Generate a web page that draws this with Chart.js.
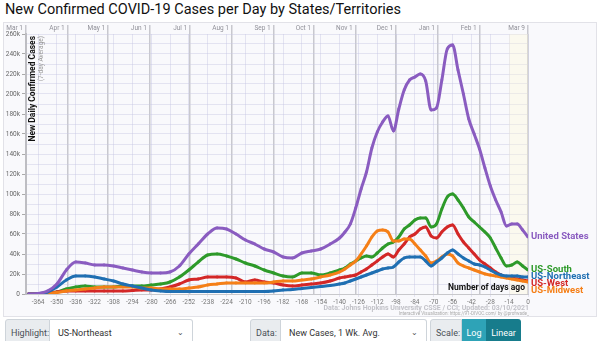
<!DOCTYPE html>
<html>
<head>
<meta charset="utf-8">
<script src="https://cdn.jsdelivr.net/npm/chart.js@4.4.0/dist/chart.umd.min.js"></script>
<style>
    body { margin: 0; width: 600px; height: 341px; overflow: hidden; background: #fff; position: relative; font-family: Roboto, "Open Sans", sans-serif; }
    #title { position: absolute; left: 5px; top: 1px; font-size: 14.5px; color: #111; white-space: nowrap; }
    #panel { position: absolute; left: 3px; top: 22px; width: 594px; height: 295px; background: #f9f9fc; border: 1px solid #e2e2e8; box-sizing: border-box; }
    #wrap { position: absolute; left: 0; top: 22px; width: 600px; height: 296px; }
    .grp { position: absolute; top: 319px; height: 28px; display: flex; font-size: 9px; color: #495057; white-space: nowrap; }
    .lbl { background: #e9ecef; border: 1px solid #ced4da; border-radius: 3px 0 0 3px; box-sizing: border-box; display: flex; align-items: center; padding-left: 5px; }
    .sel { background: #fff; border: 1px solid #ced4da; border-left: none; border-radius: 0 3px 3px 0; box-sizing: border-box; display: flex; align-items: center; padding-left: 8px; position: relative; color: #333; }
    .sel span.arr { position: absolute; right: 8px; top: 8px; font-size: 8px; color: #555; }
    .btn { display: flex; align-items: center; justify-content: center; color: #fff; box-sizing: border-box; }
</style>
</head>
<body>
<div id="title">New Confirmed COVID-19 Cases per Day by States/Territories</div>
<div id="panel"></div>
<div id="wrap"><canvas id="chart"></canvas></div>

<div class="grp" style="left:5px;">
    <div class="lbl" style="width:45px;">Highlight:</div>
    <div class="sel" style="width:143px;">US-Northeast<span class="arr">&#8964;</span></div>
</div>
<div class="grp" style="left:250px;">
    <div class="lbl" style="width:31px;">Data:</div>
    <div class="sel" style="width:146px;">New Cases, 1 Wk. Avg.<span class="arr">&#8964;</span></div>
</div>
<div class="grp" style="left:430px;">
    <div class="lbl" style="width:32px;">Scale:</div>
    <div class="btn" style="width:24px;background:#2ea3b7;">Log</div>
    <div class="btn" style="width:35px;background:#177c8c;border-radius:0 3px 3px 0;">Linear</div>
</div>

<script>
// days before Mar 9, 2021 (weekly early on, every 4 days later)
const days = [-371, -364, -357, -350, -343, -336, -329, -322, -315, -308, -301, -294, -287, -280, -273, -266, -259, -252,
    -245, -238, -231, -224, -217, -210, -203, -196, -189, -182, -175, -168, -161, -154, -147, -140,
    -136, -132, -128, -124, -120, -116, -112, -108, -104, -100, -96, -92, -88, -84, -80, -76, -72, -68,
    -64, -60, -56, -52, -48, -44, -40, -36, -32, -28, -24, -20, -16, -12, -8, -4, 0];

// new cases, 7-day average, in thousands
const unitedStates = [0, 0.5, 3, 10, 24, 32, 31, 29, 29, 28, 26, 24, 22, 21, 21, 22, 28, 40,
    50, 60, 66, 65, 60, 54, 50, 45, 42, 37, 36, 41, 43, 45, 50, 56,
    62, 70, 86, 105, 122, 146, 162, 172, 178, 163, 185, 204, 214, 217, 220, 213, 184, 186,
    214, 245, 249, 224, 200, 175, 160, 145, 126, 108, 94, 82, 68, 70, 70, 64, 57];
const usNortheast = [0, 0.3, 2, 7, 14, 18, 18, 17, 15, 13, 10, 8, 6, 4, 3, 2.5, 2.5, 2.5,
    2.5, 2.5, 2.5, 2.5, 2.5, 2.5, 2.5, 2.5, 3, 4, 4.5, 5.5, 6.5, 7.5, 8.5, 10,
    11, 13, 15, 17, 19, 21, 23, 25, 26, 27, 32, 36, 37, 37, 37, 33, 28, 32,
    36, 41, 44, 40, 36, 33, 30, 29, 27, 24, 21, 19, 18, 18, 18, 17, 17];
const usSouth = [0, 0.1, 0.5, 2, 5, 7, 8, 7, 7, 7, 8, 8, 8, 9, 10, 12, 17, 24,
    32, 39, 40, 38, 35, 31, 28, 24, 21, 18, 17, 21, 21, 19, 21, 24,
    26, 30, 33, 36, 38, 37, 41, 46, 50, 52, 57, 65, 69, 74, 76, 76, 67, 70,
    85, 97, 100, 94, 86, 77, 72, 67, 62, 56, 46, 36, 28, 29, 32, 28, 24];
const usWest = [0.3, 0.3, 1, 2, 3, 3, 3, 3, 3, 3, 3, 3.5, 4, 4, 5, 7, 10, 14,
    15, 17, 17, 17, 16, 12, 14, 12, 11, 9, 8, 9, 10, 11, 13, 16,
    17, 18, 19, 22, 25, 29, 33, 37, 40, 37, 44, 50, 57, 60, 65, 67, 58, 56,
    62, 67, 69, 60, 52, 46, 40, 34, 30, 26, 22, 19, 17, 16, 15, 14, 13];
const usMidwest = [0, 0.1, 0.5, 1.5, 3, 4, 5, 6, 7, 7, 7, 7, 6, 6, 5, 5, 5, 6,
    7, 9, 10, 11, 11, 11, 11, 11, 12, 13, 13, 14, 15, 17, 19, 22,
    25, 29, 33, 40, 48, 57, 63, 64, 62, 53, 53, 55, 55, 50, 44, 38, 31, 33,
    37, 40, 38, 31, 28, 26, 24, 22, 20, 19, 18, 17, 16, 15, 14, 13, 12];

const seriesNames = ['United States', 'US-Northeast', 'US-Midwest', 'US-West', 'US-South'];
const seriesColors = ['#8a5cc0', '#1f6fb2', '#f57f17', '#d32727', '#2e9a2a'];
const seriesValues = [unitedStates, usNortheast, usMidwest, usWest, usSouth];

const dayTicks = [-364, -350, -336, -322, -308, -294, -280, -266, -252, -238, -224, -210, -196, -182,
    -168, -154, -140, -126, -112, -98, -84, -70, -56, -42, -28, -14, 0];
const monthDays = [-373, -342, -312, -281, -251, -220, -189, -159, -128, -98, -67, -36, 0];
const monthLabels = ['Mar 1', 'Apr 1', 'May 1', 'Jun 1', 'Jul 1', 'Aug 1', 'Sep 1', 'Oct 1', 'Nov 1', 'Dec 1', 'Jan 1', 'Feb 1', 'Mar 9'];
const yTicks = [0, 20, 40, 60, 80, 100, 120, 140, 160, 180, 200, 220, 240, 260];

const FONT = 'Roboto, "Open Sans", sans-serif';

// faint band over the last two weeks
const bandPlugin = {
    id: 'band',
    beforeDatasetsDraw(chart) {
        const { ctx, chartArea, scales } = chart;
        const x0 = scales.x.getPixelForValue(-14);
        const x1 = scales.x.getPixelForValue(0);
        ctx.save();
        ctx.fillStyle = 'rgba(255, 250, 215, 0.35)';
        ctx.fillRect(x0, chartArea.top, x1 - x0, chartArea.bottom - chartArea.top);
        ctx.restore();
    }
};

// month labels, end labels, axis titles and source note
const textPlugin = {
    id: 'texts',
    afterDraw(chart) {
        const { ctx, chartArea, scales } = chart;
        ctx.save();

        // month names beside the top ticks
        ctx.font = '6.5px ' + FONT;
        ctx.fillStyle = '#909098';
        ctx.textAlign = 'right';
        ctx.textBaseline = 'middle';
        monthDays.forEach((d, i) => {
            ctx.fillText(monthLabels[i], scales.x.getPixelForValue(d) - 3, chartArea.top - 6);
        });

        // end-of-line labels, pushed apart so they do not overlap
        const items = chart.data.datasets.map(ds => {
            const last = ds.data[ds.data.length - 1];
            return { text: ds.label, color: ds.borderColor, y: scales.y.getPixelForValue(last.y) };
        }).sort((a, b) => a.y - b.y);
        for (let i = 1; i < items.length; i++) {
            if (items[i].y - items[i - 1].y < 7) items[i].y = items[i - 1].y + 7;
        }
        ctx.font = 'bold 9.5px ' + FONT;
        ctx.textAlign = 'left';
        items.forEach(it => {
            ctx.fillStyle = it.color;
            ctx.fillText(it.text, chartArea.right + 3, it.y);
        });

        // y axis title inside the plot
        ctx.save();
        ctx.translate(chartArea.left + 7, chartArea.top + 2);
        ctx.rotate(-Math.PI / 2);
        ctx.textAlign = 'right';
        ctx.fillStyle = '#111';
        ctx.font = 'bold 8.5px ' + FONT;
        ctx.fillText('New Daily Confirmed Cases', 0, 0);
        ctx.fillStyle = '#999';
        ctx.font = '6.5px ' + FONT;
        ctx.fillText('(7-day Average)', 0, 8);
        ctx.restore();

        // x axis title
        ctx.font = 'bold 8.5px ' + FONT;
        ctx.fillStyle = '#111';
        ctx.textAlign = 'right';
        ctx.fillText('Number of days ago', chartArea.right - 3, chartArea.bottom - 6);

        // source
        ctx.fillStyle = '#c2c2c8';
        ctx.font = 'bold 7px ' + FONT;
        ctx.fillText('Data: Johns Hopkins University CSSE / CCI; Updated: 03/10/2021', chartArea.right + 1, chartArea.bottom + 14);
        ctx.font = '4.6px ' + FONT;
        ctx.fillStyle = '#aaa';
        ctx.fillText('Interactive Visualization: https://91-DIVOC.com/ by @profwade_', chartArea.right + 1, chartArea.bottom + 20);
        ctx.restore();
    }
};

new Chart(document.getElementById('chart'), {
    type: 'line',
    data: {
        datasets: seriesNames.map((name, i) => ({
            label: name,
            data: days.map((d, j) => ({ x: d, y: seriesValues[i][j] })),
            borderColor: seriesColors[i],
            backgroundColor: seriesColors[i],
            borderWidth: 3,
            pointRadius: 1.4,
            pointBorderWidth: 0,
            pointBackgroundColor: seriesColors[i],
            cubicInterpolationMode: 'monotone',
            fill: false
        }))
    },
    options: {
        responsive: true,
        maintainAspectRatio: false,
        animation: false,
        layout: { padding: { left: 0, right: 72, top: 0, bottom: 13 } },
        plugins: {
            legend: { display: false },
            tooltip: { enabled: false }
        },
        scales: {
            x: {
                type: 'linear',
                position: 'bottom',
                min: -373,
                max: 0,
                afterBuildTicks: s => { s.ticks = dayTicks.map(v => ({ value: v })); },
                afterFit: s => { s.height = 11; },
                grid: { color: 'rgba(200, 200, 228, 0.45)', lineWidth: 1, tickLength: 3 },
                border: { color: '#c8c8cc', width: 1 },
                ticks: {
                    autoSkip: false,
                    maxRotation: 0,
                    padding: 1,
                    color: '#777',
                    font: { family: FONT, size: 6.5 },
                    callback: v => String(v)
                }
            },
            x2: {
                type: 'linear',
                position: 'top',
                min: -373,
                max: 0,
                afterBuildTicks: s => { s.ticks = monthDays.map(v => ({ value: v })); },
                afterFit: s => { s.height = 12; },
                grid: { color: 'rgba(160, 160, 168, 0.55)', lineWidth: 1.5, tickLength: 9 },
                border: { display: false },
                ticks: { display: false }
            },
            y: {
                min: 0,
                max: 260,
                afterBuildTicks: s => {
                    const t = [];
                    for (let v = 0; v <= 260; v += 10) t.push({ value: v });
                    s.ticks = t;
                },
                afterFit: s => { s.width = 26; },
                grid: {
                    color: 'rgba(200, 200, 228, 0.45)',
                    tickLength: 4,
                    tickColor: c => yTicks.includes(c.tick.value) ? '#aaa' : 'rgba(0,0,0,0)'
                },
                border: { color: '#bdbdc2', width: 2 },
                ticks: {
                    autoSkip: false,
                    padding: 2,
                    color: '#666',
                    font: { family: FONT, size: 6.5 },
                    callback: v => yTicks.includes(v) ? (v === 0 ? '0' : v + 'k') : ''
                }
            }
        }
    },
    plugins: [bandPlugin, textPlugin]
});
</script>
</body>
</html>
